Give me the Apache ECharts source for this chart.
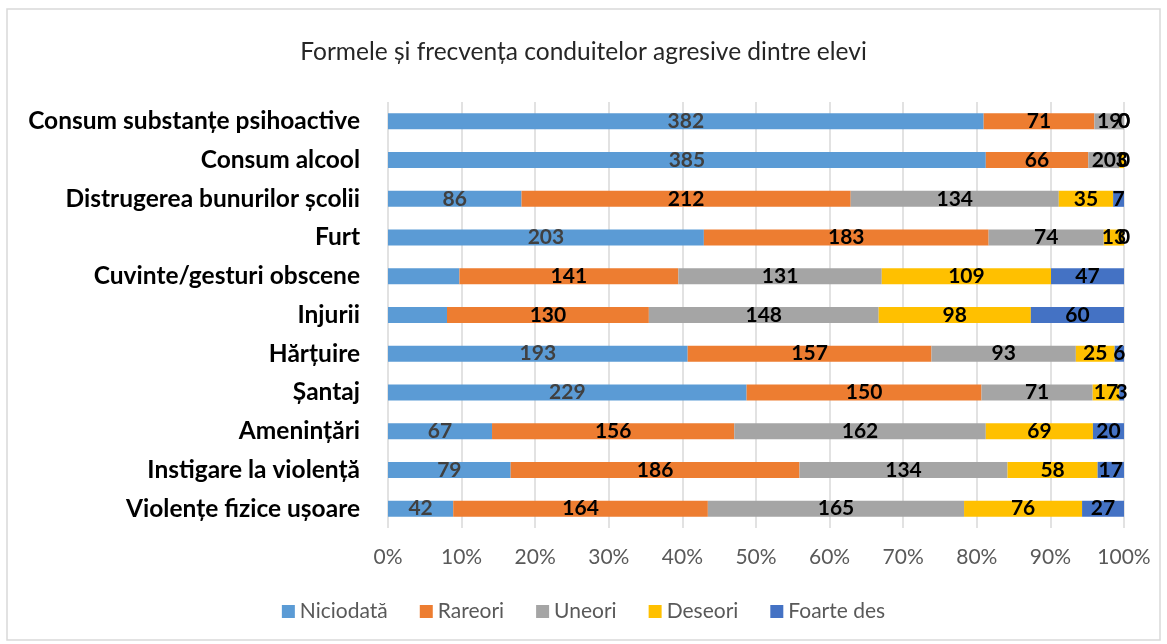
<!DOCTYPE html>
<html>
<head>
<meta charset="utf-8">
<script src="https://cdn.jsdelivr.net/npm/echarts@6/dist/echarts.min.js"></script>
<style>
  html, body { margin: 0; padding: 0; background: #fff; }
  #chart { width: 1167px; height: 644px; }
</style>
</head>
<body>
<div id="chart"></div>
<script>
// categories, top to bottom
var categories = [
  'Consum substanțe psihoactive',
  'Consum alcool',
  'Distrugerea bunurilor școlii',
  'Furt',
  'Cuvinte/gesturi obscene',
  'Injurii',
  'Hărțuire',
  'Șantaj',
  'Amenințări',
  'Instigare la violență',
  'Violențe fizice ușoare'
];
var seriesNames = ['Niciodată', 'Rareori', 'Uneori', 'Deseori', 'Foarte des'];
var colors = ['#5b9bd5', '#ed7d31', '#a5a5a5', '#ffc000', '#4472c4'];

var niciodata = [382, 385, 86, 203, 46, 38, 193, 229, 67, 79, 42];
var rareori   = [71, 66, 212, 183, 141, 130, 157, 150, 156, 186, 164];
var uneori    = [19, 20, 134, 74, 131, 148, 93, 71, 162, 134, 165];
var deseori   = [0, 3, 35, 13, 109, 98, 25, 17, 69, 58, 76];
var foarteDes = [0, 0, 7, 0, 47, 60, 6, 3, 20, 17, 27];
// the first label is not shown in the original for these rows
var hiddenLabels = ['Cuvinte/gesturi obscene', 'Injurii'];

var xTicks = ['0%', '10%', '20%', '30%', '40%', '50%', '60%', '70%', '80%', '90%', '100%'];

var all = [niciodata, rareori, uneori, deseori, foarteDes];
var totals = categories.map(function (c, i) {
  return all.reduce(function (s, arr) { return s + arr[i]; }, 0);
});

var chart = echarts.init(document.getElementById('chart'));

var series = all.map(function (arr, si) {
  return {
    name: seriesNames[si],
    type: 'bar',
    stack: 'total',
    barWidth: 16,
    itemStyle: { color: colors[si] },
    label: {
      show: true,
      position: 'inside',
      fontFamily: 'Lato',
      fontWeight: 'bold',
      fontSize: 21,
      color: si === 0 ? '#404040' : '#000',
      formatter: function (p) { return p.data.raw; }
    },
    data: arr.map(function (v, i) {
      var d = { value: v / totals[i] * 100, raw: v };
      if (si === 0 && hiddenLabels.indexOf(categories[i]) >= 0) {
        d.label = { show: false };
      }
      return d;
    })
  };
});

var option = {
  animation: false,
  title: {
    text: 'Formele și frecvența conduitelor agresive dintre elevi',
    left: 'center',
    top: 35,
    textStyle: { fontFamily: 'Lato', fontWeight: 'normal', fontSize: 24.5, color: '#262626' }
  },
  legend: {
    bottom: 17,
    left: 'center',
    icon: 'rect',
    itemWidth: 13,
    itemHeight: 13,
    itemGap: 32,
    textStyle: { fontFamily: 'Lato', fontSize: 21, color: '#595959' },
    data: seriesNames
  },
  grid: { left: 388, right: 43, top: 102, bottom: 116 },
  xAxis: {
    type: 'value',
    min: 0,
    max: 100,
    interval: 10,
    axisLine: { show: false },
    axisTick: { show: false },
    splitLine: { lineStyle: { color: '#d9d9d9', width: 1.5 } },
    axisLabel: {
      margin: 19,
      fontFamily: 'Lato',
      fontSize: 21,
      color: '#595959',
      formatter: function (v) { return xTicks[Math.round(v / 10)]; }
    }
  },
  yAxis: {
    type: 'category',
    inverse: true,
    data: categories,
    axisLine: { show: false },
    axisTick: { show: false },
    axisLabel: {
      margin: 28,
      fontFamily: 'Lato',
      fontWeight: 'bold',
      fontSize: 24.5,
      color: '#000'
    }
  },
  graphic: [{
    type: 'rect',
    shape: { x: 7, y: 9, width: 1153, height: 631 },
    style: { fill: 'none', stroke: '#d9d9d9', lineWidth: 1.5 },
    silent: true
  }],
  series: series
};

chart.setOption(option);
</script>
</body>
</html>
